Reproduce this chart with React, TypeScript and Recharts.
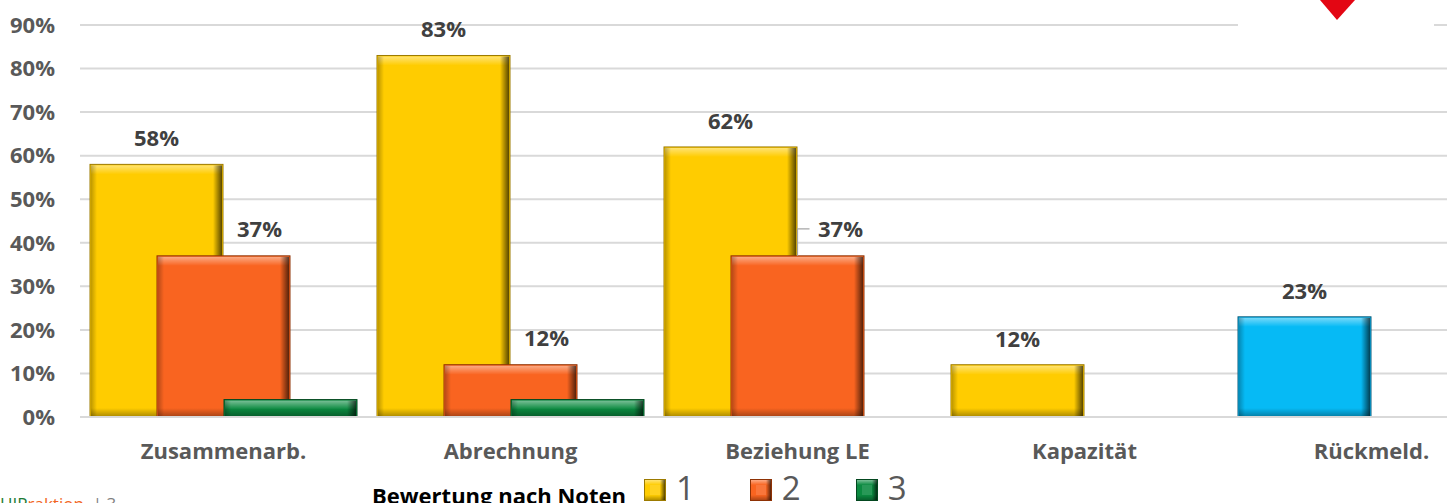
import React from 'react';
import { BarChart, Bar, XAxis, YAxis, CartesianGrid, Cell, LabelList, Legend } from 'recharts';

const categories = ['Zusammenarb.', 'Abrechnung', 'Beziehung LE', 'Kapazität', 'Rückmeld.'];
const note1 = [58, 83, 62, 12, 23];
const note2 = [37, 12, 37, 0, 0];
const note3 = [4, 4, 0, 0, 0];
const yTicks = [0, 10, 20, 30, 40, 50, 60, 70, 80, 90];
const seriesNames = ['1', '2', '3'];
// the last category is highlighted in blue in the original slide
const highlighted = ['Rückmeld.'];

const YELLOW = '#FFCC00';
const ORANGE = '#F96420';
const GREEN = '#0B8A40';
const BLUE = '#06BAF5';
const edgeColor: Record<string, string> = {
  [YELLOW]: '#9C7A00',
  [ORANGE]: '#8E3205',
  [GREEN]: '#03471F',
  [BLUE]: '#0A5B7A',
};

const data = categories.map((cat, i) => ({ cat, n1: note1[i], n2: note2[i], n3: note3[i] }));

const FONT = '"Open Sans", "DejaVu Sans", sans-serif';

function BevelBar(props: any) {
  const { x, y, width, height, fill } = props;
  if (!height || height <= 0) return null;
  const t = Math.min(9, height / 2);
  return (
    <g>
      <rect x={x} y={y} width={width} height={height} fill={fill} stroke={edgeColor[fill] || '#555'} strokeWidth={1} />
      <rect x={x + 1} y={y + 1} width={width - 2} height={t} fill="url(#shineTop)" />
      <rect x={x + 1} y={y + height - t} width={width - 2} height={t - 1} fill="url(#shadeBottom)" />
      <rect x={x + 1} y={y + 1} width={6} height={height - 2} fill="url(#shadeLeft)" />
      <rect x={x + width - 10} y={y + 1} width={9} height={height - 2} fill="url(#shadeRight)" />
    </g>
  );
}

const makeLabel = (shift: number, lift: number) => (props: any) => {
  const vb = props.viewBox || props;
  const { value, index } = props;
  if (!value) return null;
  const leader = categories[index] === 'Beziehung LE' && shift > 0;
  const cx = vb.x + vb.width / 2;
  const tx = cx + (leader ? shift + 7 : shift);
  const ty = vb.y - lift;
  return (
    <g>
      {leader && (
        <path d={`M${cx},${vb.y} L${cx},${ty - 8} L${cx + 12},${ty - 8}`} stroke="#A6A6A6" strokeWidth={1.2} fill="none" />
      )}
      <text x={tx} y={ty} textAnchor="middle" fill="#404040" fontSize={22} fontWeight={700} fontFamily={FONT}>
        {value}%
      </text>
    </g>
  );
};

function LegendSquare({ color }: { color: string }) {
  return (
    <svg width={22} height={22} style={{ display: 'block' }}>
      <rect x={0.5} y={0.5} width={21} height={21} fill={color} stroke={edgeColor[color]} />
      <rect x={1} y={1} width={20} height={5} fill="url(#shineTop)" />
      <rect x={16} y={1} width={5} height={20} fill="url(#shadeRight)" />
      <rect x={1} y={16} width={20} height={5} fill="url(#shadeBottom)" />
      <rect x={6} y={6} width={10} height={10} fill="#fff" opacity={0.12} />
    </svg>
  );
}

const renderLegend = (props: any) => {
  const payload = props.payload || [];
  return (
    <div style={{ display: 'flex', alignItems: 'flex-end', fontFamily: FONT, lineHeight: 1 }}>
      <span style={{ fontSize: 22, fontWeight: 700, color: '#000', marginRight: 18, position: 'relative', top: 5 }}>
        Bewertung nach Noten
      </span>
      {payload.map((p: any) => (
        <div key={p.value} style={{ display: 'flex', alignItems: 'flex-end', marginRight: 55 }}>
          <LegendSquare color={p.color} />
          <span style={{ fontSize: 33, color: '#595959', marginLeft: 10, position: 'relative', top: 3 }}>{p.value}</span>
        </div>
      ))}
    </div>
  );
};

export default function App() {
  return (
    <div
      style={{
        position: 'fixed',
        left: 0,
        top: 0,
        width: 1447,
        height: 503,
        overflow: 'hidden',
        background: '#fff',
        fontFamily: FONT,
      }}
    >
      <BarChart
        width={1520}
        height={503}
        data={data}
        margin={{ top: 25, right: 5, bottom: 46, left: 0 }}
        barSize={133}
        barGap={-66}
      >
        <defs>
          <linearGradient id="shineTop" x1="0" y1="0" x2="0" y2="1">
            <stop offset="0%" stopColor="#fff" stopOpacity={0.45} />
            <stop offset="100%" stopColor="#fff" stopOpacity={0} />
          </linearGradient>
          <linearGradient id="shadeBottom" x1="0" y1="0" x2="0" y2="1">
            <stop offset="0%" stopColor="#000" stopOpacity={0} />
            <stop offset="100%" stopColor="#000" stopOpacity={0.3} />
          </linearGradient>
          <linearGradient id="shadeLeft" x1="0" y1="0" x2="1" y2="0">
            <stop offset="0%" stopColor="#000" stopOpacity={0.25} />
            <stop offset="100%" stopColor="#000" stopOpacity={0} />
          </linearGradient>
          <linearGradient id="shadeRight" x1="0" y1="0" x2="1" y2="0">
            <stop offset="0%" stopColor="#000" stopOpacity={0} />
            <stop offset="100%" stopColor="#000" stopOpacity={0.65} />
          </linearGradient>
        </defs>
        <CartesianGrid vertical={false} stroke="#D9D9D9" strokeWidth={2} />
        <XAxis
          dataKey="cat"
          height={40}
          tickLine={false}
          axisLine={{ stroke: '#D9D9D9', strokeWidth: 2 }}
          tickMargin={20}
          tick={{ fontSize: 22, fontWeight: 700, fill: '#595959', fontFamily: FONT }}
        />
        <YAxis
          width={80}
          domain={[0, 90]}
          ticks={yTicks}
          interval={0}
          tickLine={false}
          axisLine={false}
          tickMargin={19}
          tickFormatter={(v: number) => `${v}%`}
          tick={{ fontSize: 22, fontWeight: 700, fill: '#595959', fontFamily: FONT }}
        />
        <Legend
          verticalAlign="middle"
          align="center"
          wrapperStyle={{ left: 372, top: 468, width: 'auto' }}
          content={renderLegend}
        />
        <Bar dataKey="n1" name={seriesNames[0]} fill={YELLOW} shape={BevelBar} isAnimationActive={false}>
          {data.map((d) => (
            <Cell key={d.cat} fill={highlighted.includes(d.cat) ? BLUE : YELLOW} />
          ))}
          <LabelList dataKey="n1" content={makeLabel(0, 18)} />
        </Bar>
        <Bar dataKey="n2" name={seriesNames[1]} fill={ORANGE} shape={BevelBar} isAnimationActive={false}>
          <LabelList dataKey="n2" content={makeLabel(36, 19)} />
        </Bar>
        <Bar dataKey="n3" name={seriesNames[2]} fill={GREEN} shape={BevelBar} isAnimationActive={false} />
      </BarChart>

      {/* logo remnant, top right */}
      <svg width={200} height={30} style={{ position: 'absolute', left: 1238, top: 0 }}>
        <rect x={0} y={0} width={196} height={30} fill="#fff" />
        <path d="M82,0 L117,0 L99,20 Z" fill="#E30613" />
      </svg>

      {/* footer */}
      <div style={{ position: 'absolute', left: 0, top: 495, fontSize: 17, lineHeight: 1, fontFamily: FONT, whiteSpace: 'nowrap' }}>
        <span style={{ color: '#1E7B34' }}>HIP</span>
        <span style={{ color: '#F26522' }}>raktion</span>
        <span style={{ color: '#7F7F7F' }}> &nbsp;| 3</span>
      </div>
    </div>
  );
}
